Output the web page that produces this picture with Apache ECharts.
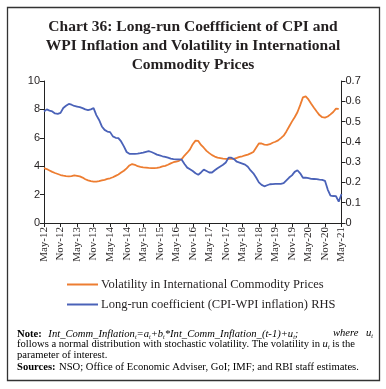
<!DOCTYPE html>
<html><head><meta charset="utf-8">
<script src="https://cdn.jsdelivr.net/npm/echarts@6/dist/echarts.min.js"></script>
<style>html,body{margin:0;padding:0;background:#fff}#c{width:386px;height:389px}</style>
</head><body><div id="c"></div>
<script>
// Monthly categories May-12 .. May-21
var monthNames = ['Jan','Feb','Mar','Apr','May','Jun','Jul','Aug','Sep','Oct','Nov','Dec'];
var startYear = 2012, startMonth = 4, monthCount = 109;
var categories = [];
for (var i = 0; i < monthCount; i++) {
  var mi = startMonth + i;
  categories.push(monthNames[mi % 12] + '-' + String((startYear + Math.floor(mi / 12)) % 100));
}
// Volatility in International Commodity Prices (left axis)
var volatility = [3.86,3.80,3.70,3.60,3.52,3.45,3.38,3.33,3.30,3.28,
3.30,3.35,3.32,3.28,3.20,3.08,3.00,2.95,2.92,2.92,
2.95,3.00,3.04,3.10,3.15,3.22,3.32,3.42,3.55,3.68,
3.85,4.05,4.15,4.10,4.00,3.95,3.92,3.90,3.88,3.87,
3.86,3.88,3.92,3.98,4.02,4.10,4.20,4.28,4.33,4.38,
4.50,4.75,4.95,5.18,5.55,5.80,5.78,5.50,5.30,5.08,
4.92,4.78,4.68,4.60,4.57,4.54,4.52,4.52,4.52,4.52,
4.58,4.65,4.70,4.76,4.82,4.90,5.00,5.30,5.60,5.60,
5.52,5.50,5.55,5.65,5.72,5.82,5.98,6.15,6.45,6.80,
7.14,7.45,7.80,8.30,8.85,8.92,8.70,8.40,8.12,7.85,
7.60,7.45,7.42,7.50,7.65,7.82,8.05,8.03,null];
// Long-run coefficient (CPI-WPI inflation), right axis
var longRunCoef = [0.550,0.560,0.554,0.550,0.540,0.538,0.543,0.567,0.578,0.587,
0.583,0.577,0.574,0.571,0.566,0.560,0.557,0.560,0.566,0.532,
0.508,0.476,0.459,0.451,0.448,0.427,0.420,0.418,0.402,0.378,
0.350,0.341,0.341,0.341,0.342,0.344,0.347,0.351,0.354,0.350,
0.344,0.337,0.333,0.329,0.326,0.322,0.317,0.315,0.314,0.314,
0.312,0.291,0.273,0.265,0.256,0.245,0.238,0.249,0.263,0.256,
0.249,0.249,0.260,0.270,0.279,0.287,0.298,0.322,0.322,0.315,
0.302,0.298,0.293,0.288,0.277,0.259,0.245,0.224,0.200,0.188,
0.181,0.186,0.191,0.192,0.193,0.193,0.193,0.196,0.210,0.224,
0.235,0.252,0.260,0.245,0.223,0.224,0.221,0.218,0.217,0.216,
0.214,0.213,0.208,0.165,0.135,0.133,0.132,0.105,0.143];
var seriesNames = ['Volatility in International Commodity Prices', 'Long-run coefficient (CPI-WPI inflation) RHS'];
var titleLines = ['Chart 36: Long-run Coeffficient of CPI and', 'WPI Inflation and Volatility in International', 'Commodity Prices'];

var chart = echarts.init(document.getElementById('c'), null, {renderer: 'canvas'});
var serif = 'Liberation Serif';
var sans = 'Liberation Sans';
var txt = '#231f20';
var fs = 10.6;
var rich = {
  b: {fontFamily: serif, fontSize: fs, fontWeight: 'bold', color: txt},
  i: {fontFamily: serif, fontSize: fs, fontStyle: 'italic', color: txt},
  n: {fontFamily: serif, fontSize: fs, color: txt},
  s: {fontFamily: serif, fontSize: 6, fontStyle: 'italic', color: txt, verticalAlign: 'bottom', padding: [6, 0, 0, 0]}
};
chart.setOption({
  animation: false,
  title: {
    text: titleLines.join('\n'), left: 'center', top: 12,
    textStyle: {fontFamily: serif, fontSize: 15.5, fontWeight: 'bold', color: txt, lineHeight: 19}
  },
  legend: {
    orient: 'vertical', left: 62, top: 273, itemGap: 7,
    itemWidth: 31, itemHeight: 2, icon: 'rect',
    textStyle: {fontFamily: serif, fontSize: 12.5, color: txt, padding: [0, 0, 0, -2]},
    data: seriesNames
  },
  grid: {left: 44, right: 44.5, top: 81, bottom: 166, containLabel: false},
  xAxis: {
    type: 'category', data: categories, boundaryGap: false,
    axisLine: {lineStyle: {color: '#222', width: 1}},
    axisTick: {interval: 5, length: 4, lineStyle: {color: '#222'}},
    axisLabel: {interval: 5, rotate: 90, fontFamily: serif, fontSize: 11, color: txt, margin: 4}
  },
  yAxis: [{
    type: 'value', min: 0, max: 10, interval: 2, position: 'left',
    splitLine: {show: false},
    axisLine: {show: true, lineStyle: {color: '#222'}},
    axisTick: {show: true, length: 4, lineStyle: {color: '#222'}},
    axisLabel: {fontFamily: sans, fontSize: 11, color: txt, margin: 4}
  }, {
    type: 'value', min: 0, max: 0.7, interval: 0.1, position: 'right',
    splitLine: {show: false},
    axisLine: {show: true, lineStyle: {color: '#222'}},
    axisTick: {show: true, length: 4, lineStyle: {color: '#222'}},
    axisLabel: {fontFamily: sans, fontSize: 11, color: txt, margin: 4,
      formatter: function (v) { return v === 0 ? '0' : v.toFixed(1); }}
  }],
  series: [{
    name: seriesNames[0], type: 'line', yAxisIndex: 0, data: volatility,
    symbol: 'none', lineStyle: {color: '#ED7D31', width: 1.8}, itemStyle: {color: '#ED7D31'}
  }, {
    name: seriesNames[1], type: 'line', yAxisIndex: 1, data: longRunCoef,
    symbol: 'none', lineStyle: {color: '#4A62B8', width: 1.8}, itemStyle: {color: '#4A62B8'}
  }],
  graphic: [
    {type: 'rect', shape: {x: 7.5, y: 7.5, width: 372, height: 373}, style: {fill: null, stroke: '#333', lineWidth: 1.3}, silent: true},
    {type: 'text', left: 17, top: 328, style: {
      text: '{b|Note:}  {i|Int_Comm_Inflation}{s|t}{i|=a}{s|t}{i|+b}{s|t}{i|*Int_Comm_Inflation_(t-1)+u}{s|t}{i|;}',
      rich: rich}},
    {type: 'text', left: 333, top: 328, style: {text: '{i|where}', rich: rich}},
    {type: 'text', left: 366, top: 328, style: {text: '{i|u}{s|t}', rich: rich}},
    {type: 'text', left: 17, top: 339, style: {
      text: '{n|follows a normal distribution with stochastic volatility. The volatility in }{i|u}{s|t}{n| is the}', rich: rich}},
    {type: 'text', left: 17, top: 350, style: {text: '{n|parameter of interest.}', rich: rich}},
    {type: 'text', left: 17, top: 361, style: {
      text: '{b|Sources:} {n|NSO; Office of Economic Adviser, GoI; IMF; and RBI staff estimates.}', rich: rich}}
  ]
});
</script></body></html>
